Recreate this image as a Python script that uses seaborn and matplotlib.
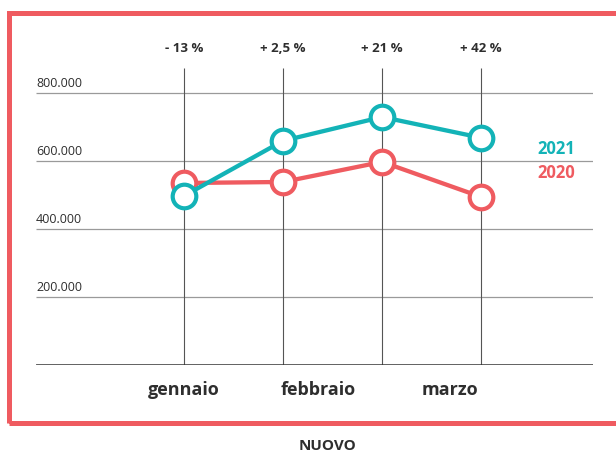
import matplotlib
matplotlib.use("Agg")
import matplotlib.pyplot as plt
import matplotlib.patches as patches
import matplotlib.transforms as mtransforms
import seaborn as sns
import pandas as pd

# data
points = [0, 1, 2, 3]
vals_2020 = [535000, 538000, 597000, 494000]
vals_2021 = [497000, 659000, 729000, 668000]
pct_labels = ["- 13 %", "+ 2,5 %", "+ 21 %", "+ 42 %"]
months = ["gennaio", "febbraio", "marzo"]
month_pos = [0, 1.35, 2.69]
yticks = [200000, 400000, 600000, 800000]
ytick_labels = ["200.000", "400.000", "600.000", "800.000"]

red = "#ef5b60"
teal = "#13b3b7"
txt = "#2e2e2e"

sns.set_theme(style="white")
plt.rcParams["font.family"] = ["Open Sans", "DejaVu Sans"]

df = pd.DataFrame({
    "punto": points * 2,
    "valore": vals_2020 + vals_2021,
    "anno": ["2020"] * 4 + ["2021"] * 4,
})

fig = plt.figure(figsize=(6.16, 4.54), dpi=100)
W, H = 616, 454
ax_left, ax_right, ax_top, ax_bottom = 36, 593, 68, 365
ax = fig.add_axes([ax_left / W, 1 - ax_bottom / H,
                   (ax_right - ax_left) / W, (ax_bottom - ax_top) / H])

ymax = 873000
x0, x1 = -1.495, 4.13
ax.set_ylim(0, ymax)
ax.set_xlim(x0, x1)

# grid
ax.hlines(yticks, x0, x1, color="#9a9a9a", lw=0.9, zorder=1)
ax.vlines(points, 0, ymax, color="#555555", lw=0.8, zorder=1)
ax.axhline(0, color="#333333", lw=1.8, zorder=2)

sns.lineplot(data=df, x="punto", y="valore", hue="anno",
             palette={"2020": red, "2021": teal}, hue_order=["2020", "2021"],
             lw=3.1, marker="o", markersize=17, markerfacecolor="white",
             markeredgewidth=3, legend=False, ax=ax, zorder=3)
for line, c in zip(ax.get_lines()[-2:], [red, teal]):
    line.set_markeredgecolor(c)

for s in ax.spines.values():
    s.set_visible(False)
ax.set_xticks([])
ax.set_yticks([])
ax.set_xlabel("")
ax.set_ylabel("")
ax.patch.set_alpha(0)

# y labels above gridlines
for v, lab in zip(yticks, ytick_labels):
    ax.text(x0, v + 8000, lab, ha="left", va="bottom", fontsize=9,
            color=txt)

# percentage labels on top
trans = mtransforms.blended_transform_factory(ax.transData, ax.transAxes)
for x, lab in zip(points, pct_labels):
    ax.text(x, 1 + 20 / 297, lab, ha="center", va="center", fontsize=9.5,
            fontweight="bold", color=txt, transform=trans)

# month labels
for x, lab in zip(month_pos, months):
    ax.text(x, -25 / 297, lab, ha="center", va="center", fontsize=13,
            fontweight="bold", color=txt, transform=trans)

# series labels
ax.text(3.76, 635000, "2021", ha="center", va="center", fontsize=12,
        fontweight="bold", color=teal)
ax.text(3.76, 563000, "2020", ha="center", va="center", fontsize=12,
        fontweight="bold", color=red)

# red frame
frame = patches.Rectangle((8.5 / W, 1 - 422.5 / H), 1.0, (422.5 - 12.5) / H,
                          transform=fig.transFigure, fill=False,
                          edgecolor=red, lw=3.6, clip_on=False)
fig.add_artist(frame)

fig.text(327 / W, 1 - 446 / H, "NUOVO", ha="center", va="center",
         fontsize=11, fontweight="bold", color=txt)

fig.savefig("out.png", dpi=100)
